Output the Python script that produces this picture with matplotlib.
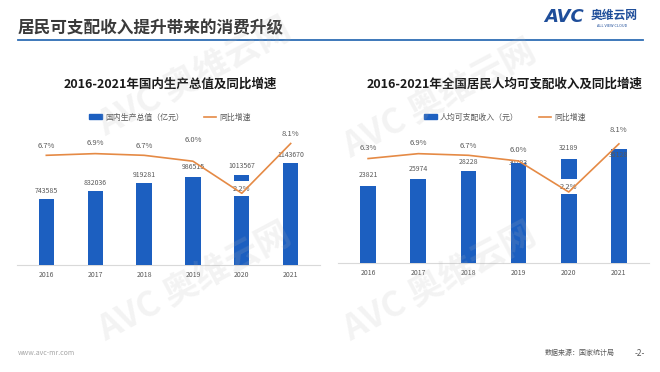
import numpy as np
import matplotlib
matplotlib.use('Agg')
import matplotlib.pyplot as plt
from matplotlib.patches import Patch
from matplotlib.lines import Line2D

plt.rcParams['font.family'] = ['Noto Sans CJK SC', 'DejaVu Sans']

# data
years = ['2016', '2017', '2018', '2019', '2020', '2021']
gdp = [743585, 832036, 919281, 986515, 1013567, 1143670]
gdp_growth = [6.7, 6.9, 6.7, 6.0, 2.2, 8.1]
income = [23821, 25974, 28228, 30733, 32189, 35128]
income_growth = [6.3, 6.9, 6.7, 6.0, 2.2, 8.1]

BLUE = '#1c5fc0'
ORANGE = '#e58a45'
GRAY = '#595959'

W, H = 660, 372
fig = plt.figure(figsize=(6.6, 3.72), dpi=100)


def fx(x):
    return x / W


def fy(y):
    return 1 - y / H


def panel(x0, x1, top, base, vals, rates, ymax, y2lim, title, tx, leg_label,
          bar_dy, bar_z, pct_dy):
    ax = fig.add_axes([fx(x0), fy(base), fx(x1 - x0), (base - top) / H])
    x = np.arange(len(years))
    ax.bar(x, vals, width=0.31, color=BLUE, zorder=3)
    ax.set_xlim(-0.6, 5.6)
    ax.set_ylim(0, ymax)
    ax.set_xticks(x)
    ax.set_xticklabels(years, fontsize=5, color=GRAY)
    ax.tick_params(axis='x', length=0, pad=4)
    ax.set_yticks([])
    for s in ['left', 'right', 'top']:
        ax.spines[s].set_visible(False)
    ax.spines['bottom'].set_color('#d9d9d9')
    ax.spines['bottom'].set_linewidth(0.8)
    for i, v in enumerate(vals):
        ax.annotate(str(v), (x[i], v), xytext=(0, bar_dy[i]),
                    textcoords='offset points', ha='center', va='bottom',
                    fontsize=5, color=GRAY, zorder=bar_z[i])

    ax2 = ax.twinx()
    ax2.plot(x, rates, color=ORANGE, lw=1.2, zorder=4)
    ax2.set_ylim(*y2lim)
    ax2.set_xlim(-0.6, 5.6)
    ax2.axis('off')
    for i, r in enumerate(rates):
        kw = {'zorder': 5}
        if r < 3:
            # white callout box sits over the bar but under the line
            kw = {'zorder': 3, 'bbox': dict(fc='white', ec='none', pad=2.5)}
        ax2.annotate('%.1f%%' % r, (x[i], r), xytext=(0, pct_dy[i]),
                     textcoords='offset points', ha='center', va='bottom',
                     fontsize=5.5, color=GRAY, **kw)

    fig.text(fx(tx), fy(84), title, ha='center', va='center', fontsize=9,
             fontweight='bold', color='#1a1a1a')
    handles = [Patch(color=BLUE, label=leg_label),
               Line2D([], [], color=ORANGE, lw=1.2, label='同比增速')]
    fig.legend(handles=handles, loc='center', ncol=2, frameon=False,
               bbox_to_anchor=(fx(tx), fy(117)), fontsize=5.7,
               labelcolor=GRAY, handlelength=1.6, handleheight=0.6,
               columnspacing=2.5, handletextpad=0.4)
    return ax


panel(17, 320, 130, 265, gdp, gdp_growth, 1513700, (-6.3, 9.7),
      '2016-2021年国内生产总值及同比增速', 170, '国内生产总值（亿元）',
      [3, 3, 3, 4, 3, 3], [6, 6, 6, 6, 6, 6], [4, 4.5, 4, 12.5, 0.5, 4])
panel(338, 649, 130, 263, income, income_growth, 40983, (-6.5, 9.8),
      '2016-2021年全国居民人均可支配收入及同比增速', 505, '人均可支配收入（元）',
      [4.5, 4, 4, -3, 4.5, -7], [6, 6, 6, 1, 6, 6], [4.5, 4.5, 4, 5, 1, 7])

# header
fig.text(fx(18), fy(28), '居民可支配收入提升带来的消费升级', ha='left',
         va='center', fontsize=12, fontweight='bold', color='#3a3a3a')
fig.add_artist(Line2D([fx(18), fx(643)], [fy(40), fy(40)], color='#2e6db4',
                      lw=1.3))
fig.text(fx(544), fy(17), 'AVC', ha='left', va='center', fontsize=13,
         fontweight='bold', style='italic', color='#1f4e9a',
         family='DejaVu Sans')
fig.text(fx(591), fy(15), '奥维云网', ha='left', va='center', fontsize=8.5,
         fontweight='bold', color='#1f4e9a')
fig.text(fx(597), fy(26), 'ALL VIEW CLOUD', ha='left', va='center',
         fontsize=2.8, color='#1f4e9a')

# watermarks
for cx, cy in [(195, 78), (195, 283), (440, 100), (440, 283)]:
    fig.text(fx(cx), fy(cy), 'AVC 奥维云网', ha='center', va='center',
             rotation=28, fontsize=25, fontweight='bold', color='#b8b8b8',
             alpha=0.16, zorder=10)

# footer
fig.text(fx(18), fy(353), 'www.avc-mr.com', ha='left', va='center',
         fontsize=5, color='#a6a6a6')
fig.text(fx(615), fy(353), '数据来源：国家统计局', ha='right', va='center',
         fontsize=5, color=GRAY)
fig.text(fx(640), fy(353), '-2-', ha='center', va='center', fontsize=6,
         color=GRAY)

fig.savefig('out.png', dpi=100)
